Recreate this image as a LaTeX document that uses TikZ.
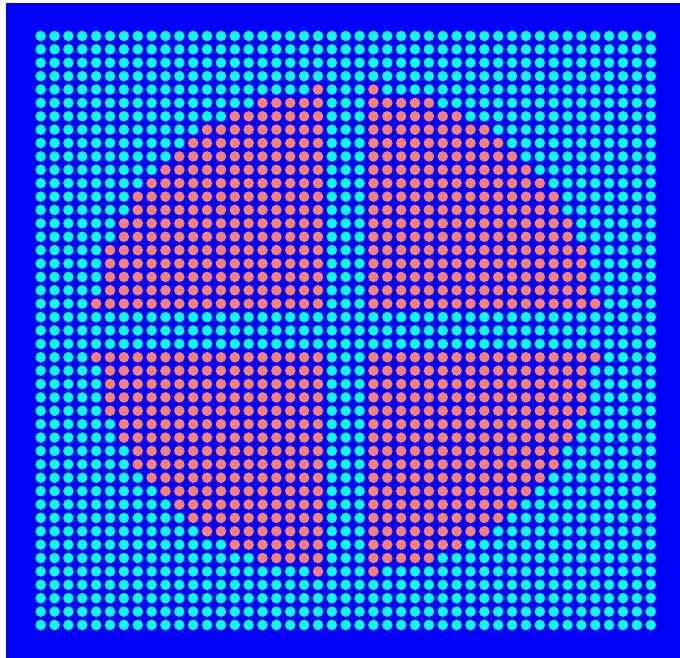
\documentclass[tikz,border=0pt]{standalone}
\definecolor{bgblue}{RGB}{2,2,248}
\definecolor{dotcyan}{RGB}{0,255,255}
\definecolor{dotsalmon}{RGB}{250,128,114}
\tikzset{
  cyandot/.style={fill=dotcyan},
  salmondot/.style={fill=dotsalmon}
}
\begin{document}
\begin{tikzpicture}[x=1pt,y=1pt]
\useasboundingbox (0,0) rectangle (680,658);
\fill[bgblue] (6,0) rectangle (680,655);
\foreach \i in {0,...,44}{
  \foreach \j in {0,...,44}{
    \pgfmathtruncatemacro{\inside}{((\i-22)*(\i-22)+(\j-22)*(\j-22)<=331)&&(abs(\i-22)>=2)&&(abs(\j-22)>=2)}
    \pgfmathsetmacro{\px}{40.7+\i*13.864}
    \pgfmathsetmacro{\py}{658-36-\j*13.386}
    \ifnum\inside=1
      \fill[salmondot] (\px,\py) circle[radius=5.3];
    \else
      \fill[cyandot] (\px,\py) circle[radius=5.3];
    \fi
  }
}
\end{tikzpicture}
\end{document}
